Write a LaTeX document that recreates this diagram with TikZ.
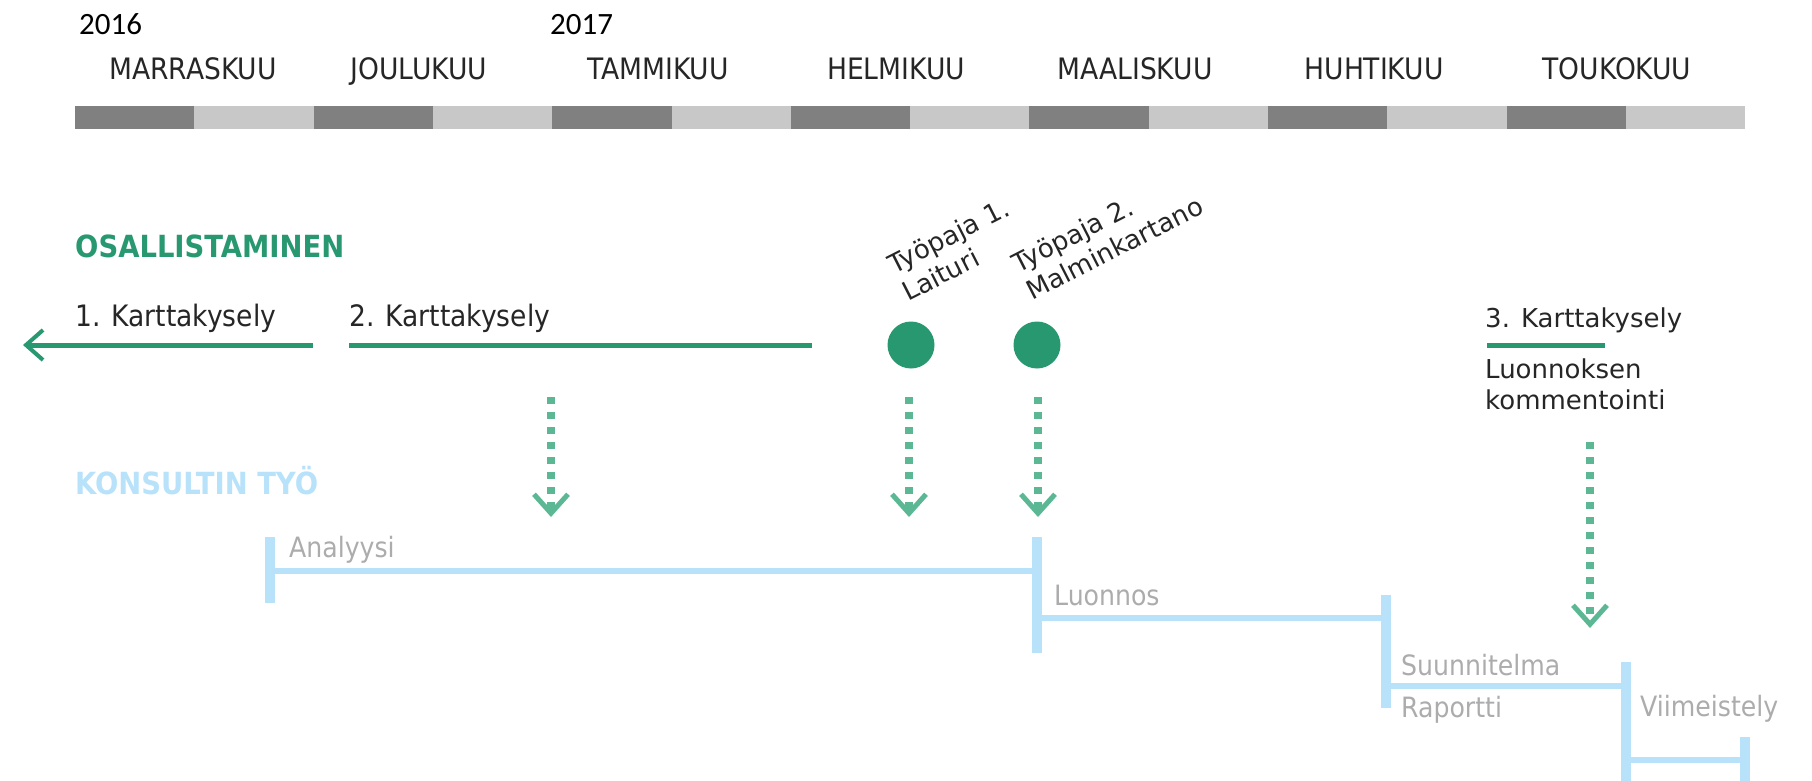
\documentclass[tikz,border=0pt]{standalone}
\usepackage{fontspec}
\setmainfont{DejaVu Sans}
\newfontfamily\condfont{DejaVu Sans Condensed}
\newfontfamily\yearfont{Carlito}
\usetikzlibrary{arrows.meta, positioning}
\definecolor{osgreen}{RGB}{40,152,112}
\definecolor{dropgreen}{RGB}{92,184,148}
\definecolor{konsblue}{RGB}{183,226,250}
\definecolor{phasegray}{RGB}{172,172,172}
\definecolor{segdark}{RGB}{128,128,128}
\definecolor{seglight}{RGB}{200,200,200}
\begin{document}
\begin{tikzpicture}[
    x=1pt, y=-1pt,
    node distance=6pt and 0pt,
    month/.style={font=\condfont\fontsize{29.5}{33}\selectfont, text=black!85, anchor=base, inner sep=0pt},
    yearlbl/.style={font=\yearfont\fontsize{31}{35}\selectfont, anchor=base west, inner sep=0pt},
    heading/.style={font=\condfont\bfseries\fontsize{30.5}{34}\selectfont, anchor=base west, inner sep=0pt},
    survey/.style={font=\condfont\fontsize{29.5}{33}\selectfont, text=black!85, anchor=base west, inner sep=0pt},
    event/.style={font=\fontsize{26}{31}\selectfont, text=black!85, anchor=base west, inner sep=0pt, align=left},
    phase/.style={font=\condfont\fontsize{28}{32}\selectfont, text=phasegray, anchor=base west, inner sep=0pt},
    wsdot/.style={circle, fill=osgreen, minimum size=47pt, inner sep=0pt},
    gline/.style={draw=osgreen, line width=5pt},
    dropline/.style={draw=dropgreen, line width=8pt, dash pattern=on 7pt off 8pt, -{Straight Barb[length=19pt,width=34pt,line width=5pt]}},
    vbar/.style={draw=konsblue, line width=10pt},
    hbar/.style={draw=konsblue, line width=6pt}
]
\useasboundingbox (0,0) rectangle (1812,781);

% months
\foreach \i in {0,...,6} {
    \fill[segdark] (75+238.6*\i,106) rectangle (75+238.6*\i+119.3,129);
    \fill[seglight] (75+238.6*\i+119.3,106) rectangle (75+238.6*\i+238.6,129);
}
\foreach \name/\cx in {MARRASKUU/193, JOULUKUU/419, TAMMIKUU/658, HELMIKUU/896, MAALISKUU/1135, HUHTIKUU/1374, TOUKOKUU/1617}
    \node[month] (m\name) at (\cx,80) {\name};
\node[yearlbl] (y2016) at (79,35) {2016};
\node[yearlbl] (y2017) at (550,35) {2017};

% osallistaminen
\node[heading, text=osgreen] (osal) at (75,257) {OSALLISTAMINEN};
\node[survey] (k1) at (75,326) {1. Karttakysely};
\node[survey] (k2) at (349,326) {2. Karttakysely};
\node[event] (k3) at (1485,327) {3. Karttakysely};
\coordinate (k1end) at (313,345);
\coordinate (k1tip) at (23,345);
\coordinate (k2start) at (349,345);
\coordinate (k2end) at (812,345);
\coordinate (k3start) at (1487,345);
\coordinate (k3end) at (1605,345);
\draw[gline, -{Straight Barb[length=17pt,width=30pt,line width=4pt]}] (k1end) -- (k1tip);
\draw[gline] (k2start) -- (k2end);
\draw[gline] (k3start) -- (k3end);
% base of a two-line node is its last line
\node[event] (k3note) at (1485,409) {Luonnoksen\\kommentointi};

\node[wsdot] (tp1) at (911,345) {};
\node[wsdot] (tp2) at (1037,345) {};
\node[event, rotate=27] (tp1lbl) at (908,302) {Työpaja 1.\\Laituri};
\node[event, rotate=27] (tp2lbl) at (1032,301) {Työpaja 2.\\Malminkartano};

\coordinate (d1a) at (551,397);
\coordinate (d1b) at (551,517);
\coordinate (d2a) at (909,397);
\coordinate (d2b) at (909,517);
\coordinate (d3a) at (1038,397);
\coordinate (d3b) at (1038,517);
\coordinate (d4a) at (1590,442);
\coordinate (d4b) at (1590,628);
\draw[dropline] (d1a) -- (d1b);
\draw[dropline] (d2a) -- (d2b);
\draw[dropline] (d3a) -- (d3b);
\draw[dropline] (d4a) -- (d4b);

% konsultin tyo
\node[heading, text=konsblue] (kons) at (75,494) {KONSULTIN TYÖ};
\draw[vbar] (270,537) -- (270,603);
\draw[hbar] (270,571) -- (1037,571);
\draw[vbar] (1037,537) -- (1037,653);
\draw[hbar] (1037,618) -- (1386,618);
\draw[vbar] (1386,595) -- (1386,708);
\draw[hbar] (1386,686) -- (1626,686);
\draw[vbar] (1626,662) -- (1626,781);
\draw[hbar] (1626,760) -- (1745,760);
\draw[vbar] (1745,737) -- (1745,781);
\node[phase] (analyysi) at (289,557) {Analyysi};
\node[phase] (luonnos) at (1054,605) {Luonnos};
\node[phase] (suunn) at (1401,675) {Suunnitelma};
\node[phase] (raportti) at (1401,717) {Raportti};
\node[phase] (viim) at (1640,716) {Viimeistely};
\end{tikzpicture}
\end{document}
